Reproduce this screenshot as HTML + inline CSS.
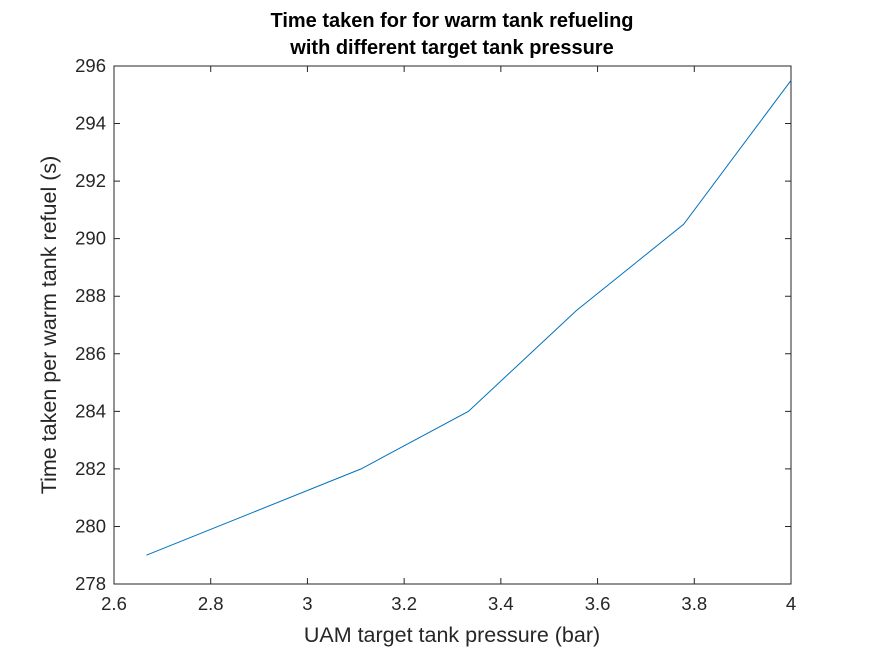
<!DOCTYPE html>
<html><head><meta charset="utf-8"><style>
body{margin:0;background:#fff;}
svg{display:block;font-family:"Liberation Sans",Arial,sans-serif;}
</style></head><body>
<svg id="chart" width="875" height="656">
<rect width="875" height="656" fill="#fff"/>
<text x="452" y="27" text-anchor="middle" font-size="20" font-weight="bold" fill="#000">Time taken for for warm tank refueling</text>
<text x="452" y="54" text-anchor="middle" font-size="20" font-weight="bold" fill="#000">with different target tank pressure</text>
<rect x="114" y="66" width="677" height="518" fill="#fff" stroke="#262626" stroke-width="1"/>
<g id="xticks"></g>
<g id="yticks"></g>
<text x="452" y="642" text-anchor="middle" font-size="21.5" fill="#262626">UAM target tank pressure (bar)</text>
<text transform="translate(56,325) rotate(-90)" text-anchor="middle" font-size="21.5" fill="#262626">Time taken per warm tank refuel (s)</text>
<path id="line" fill="none" stroke="#0072BD" stroke-width="1"/>
</svg>
<script>
const xValues=[2.667,2.889,3.111,3.333,3.556,3.778,4.0];
const yValues=[279,280.5,282,284,287.5,290.5,295.5];
const xTicks=[2.6,2.8,3,3.2,3.4,3.6,3.8,4];
const xTickLabels=["2.6","2.8","3","3.2","3.4","3.6","3.8","4"];
const yTicks=[278,280,282,284,286,288,290,292,294,296];
const yTickLabels=["278","280","282","284","286","288","290","292","294","296"];
const X0=114,X1=791,Y0=584,Y1=66;
const sx=v=>X0+(v-2.6)/(4-2.6)*(X1-X0);
const sy=v=>Y0-(v-278)/(296-278)*(Y0-Y1);
const NS="http://www.w3.org/2000/svg";
const xg=document.getElementById('xticks'),yg=document.getElementById('yticks');
xTicks.forEach((t,i)=>{
 const x=sx(t);
 const l=document.createElementNS(NS,'path');
 l.setAttribute('d',`M${x},${Y0}v-6M${x},${Y1}v6`);l.setAttribute('stroke','#262626');
 
 
 xg.appendChild(l);
 const tx=document.createElementNS(NS,'text');
 tx.setAttribute('x',x);tx.setAttribute('y',Y0+26);tx.setAttribute('text-anchor','middle');
 tx.setAttribute('font-size','18.5');tx.setAttribute('fill','#262626');tx.textContent=xTickLabels[i];
 
 
 xg.appendChild(tx);
});
yTicks.forEach((t,i)=>{
 const y=sy(t);
 const l=document.createElementNS(NS,'path');
 l.setAttribute('d',`M${X0},${y}h6M${X1},${y}h-6`);l.setAttribute('stroke','#262626');
 
 
 yg.appendChild(l);
 const tx=document.createElementNS(NS,'text');
 tx.setAttribute('x',X0-8);tx.setAttribute('y',y+6);tx.setAttribute('text-anchor','end');
 tx.setAttribute('font-size','18.5');tx.setAttribute('fill','#262626');tx.textContent=yTickLabels[i];
 
 
 yg.appendChild(tx);
});
document.getElementById('line').setAttribute('d',xValues.map((v,i)=>(i?'L':'M')+sx(v)+','+sy(yValues[i])).join(''));
</script>
</body></html>
